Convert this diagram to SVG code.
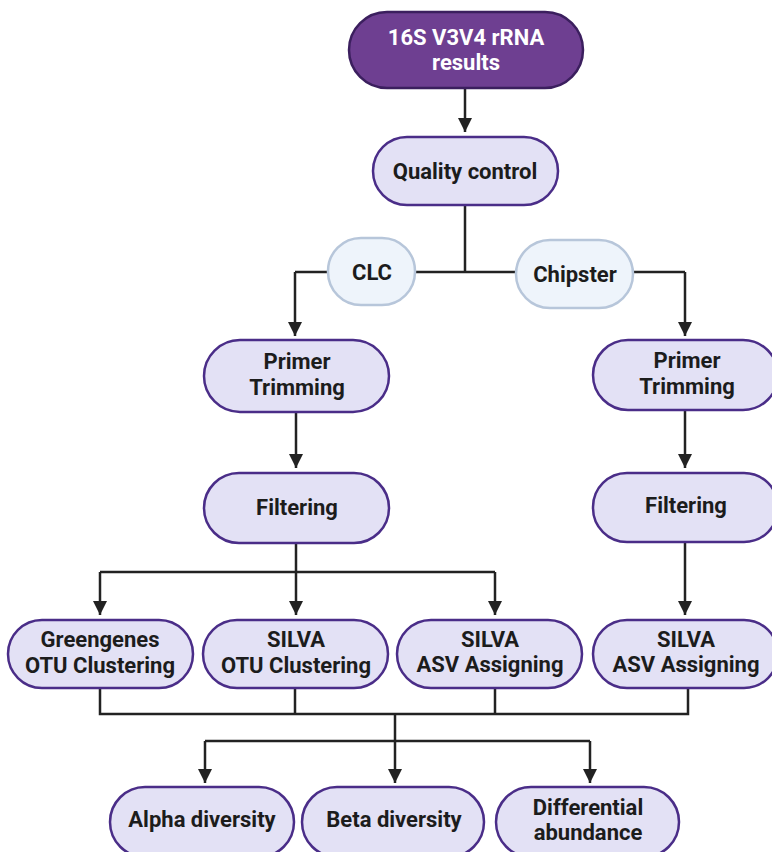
<svg xmlns="http://www.w3.org/2000/svg" width="772" height="852" viewBox="0 0 772 852">
<style>
.n{fill:#e3e1f5;stroke:#4a2d88;stroke-width:2.5}
.s{fill:#eef4fb;stroke:#b7c6da;stroke-width:2.5}
.top{fill:#6e3f91;stroke:#3b1f5e;stroke-width:2.5}
.t{font-family:Roboto,"Liberation Sans",sans-serif;font-weight:bold;font-size:22px;fill:#1c1c1c;text-anchor:middle}
.tw{fill:#ffffff}
.c{fill:none;stroke:#222;stroke-width:2.5}
</style>
<defs>
<marker id="a" markerUnits="userSpaceOnUse" markerWidth="16" markerHeight="16" viewBox="0 0 16 16" refX="14" refY="8" orient="auto">
<path d="M0,1 L14,8 L0,15 Z" fill="#222"/>
</marker>
</defs>
<g id="connectors">
<path class="c" d="M465,88 V132" marker-end="url(#a)"/>
<path class="c" d="M465,205 V272"/>
<path class="c" d="M295,272 H685"/>
<path class="c" d="M295,272 V336" marker-end="url(#a)"/>
<path class="c" d="M685,272 V336" marker-end="url(#a)"/>
<path class="c" d="M296,412 V468" marker-end="url(#a)"/>
<path class="c" d="M685,410 V468" marker-end="url(#a)"/>
<path class="c" d="M296,543 V572"/>
<path class="c" d="M100,572 H495"/>
<path class="c" d="M100,572 V615" marker-end="url(#a)"/>
<path class="c" d="M296,572 V615" marker-end="url(#a)"/>
<path class="c" d="M495,572 V615" marker-end="url(#a)"/>
<path class="c" d="M685,542 V615" marker-end="url(#a)"/>
<path class="c" d="M100,688 V714 H688 V688"/>
<path class="c" d="M295,688 V714"/>
<path class="c" d="M495,688 V714"/>
<path class="c" d="M395,714 V741"/>
<path class="c" d="M205,741 H590"/>
<path class="c" d="M205,741 V783" marker-end="url(#a)"/>
<path class="c" d="M395,741 V783" marker-end="url(#a)"/>
<path class="c" d="M590,741 V783" marker-end="url(#a)"/>
</g>
<g id="n-results">
<rect class="top" x="349" y="12" width="234" height="76" rx="38"/>
<text class="t tw" x="466" y="45">16S V3V4 rRNA</text>
<text class="t tw" x="466" y="70">results</text>
</g>
<g id="n-qc">
<rect class="n" x="373" y="137" width="185" height="68" rx="34"/>
<text class="t" x="465" y="179">Quality control</text>
</g>
<g id="n-clc">
<rect class="s" x="328" y="238" width="87" height="67" rx="33"/>
<text class="t" x="372" y="280">CLC</text>
</g>
<g id="n-chipster">
<rect class="s" x="516" y="240" width="117" height="68" rx="34"/>
<text class="t" x="575" y="282">Chipster</text>
</g>
<g id="n-primer-l">
<rect class="n" x="204" y="340" width="185" height="72" rx="36"/>
<text class="t" x="297" y="369">Primer</text>
<text class="t" x="297" y="395">Trimming</text>
</g>
<g id="n-primer-r">
<rect class="n" x="593" y="340" width="185" height="70" rx="35"/>
<text class="t" x="687" y="368">Primer</text>
<text class="t" x="687" y="394">Trimming</text>
</g>
<g id="n-filter-l">
<rect class="n" x="204" y="473" width="185" height="70" rx="35"/>
<text class="t" x="297" y="515">Filtering</text>
</g>
<g id="n-filter-r">
<rect class="n" x="593" y="473" width="185" height="69" rx="34"/>
<text class="t" x="686" y="513">Filtering</text>
</g>
<g id="n-greengenes">
<rect class="n" x="8" y="620" width="185" height="68" rx="34"/>
<text class="t" x="100" y="647">Greengenes</text>
<text class="t" x="100" y="673">OTU Clustering</text>
</g>
<g id="n-silva-otu">
<rect class="n" x="203" y="620" width="185" height="68" rx="34"/>
<text class="t" x="296" y="647">SILVA</text>
<text class="t" x="296" y="673">OTU Clustering</text>
</g>
<g id="n-silva-asv-l">
<rect class="n" x="397" y="620" width="185" height="68" rx="34"/>
<text class="t" x="490" y="647">SILVA</text>
<text class="t" x="490" y="672">ASV Assigning</text>
</g>
<g id="n-silva-asv-r">
<rect class="n" x="593" y="620" width="185" height="68" rx="34"/>
<text class="t" x="686" y="647">SILVA</text>
<text class="t" x="686" y="672">ASV Assigning</text>
</g>
<g id="n-alpha">
<rect class="n" x="110" y="787" width="184" height="70" rx="35"/>
<text class="t" x="202" y="827">Alpha diversity</text>
</g>
<g id="n-beta">
<rect class="n" x="302" y="787" width="182" height="70" rx="35"/>
<text class="t" x="394" y="827">Beta diversity</text>
</g>
<g id="n-diff">
<rect class="n" x="496" y="787" width="183" height="70" rx="35"/>
<text class="t" x="588" y="815">Differential</text>
<text class="t" x="588" y="840">abundance</text>
</g>
</svg>
